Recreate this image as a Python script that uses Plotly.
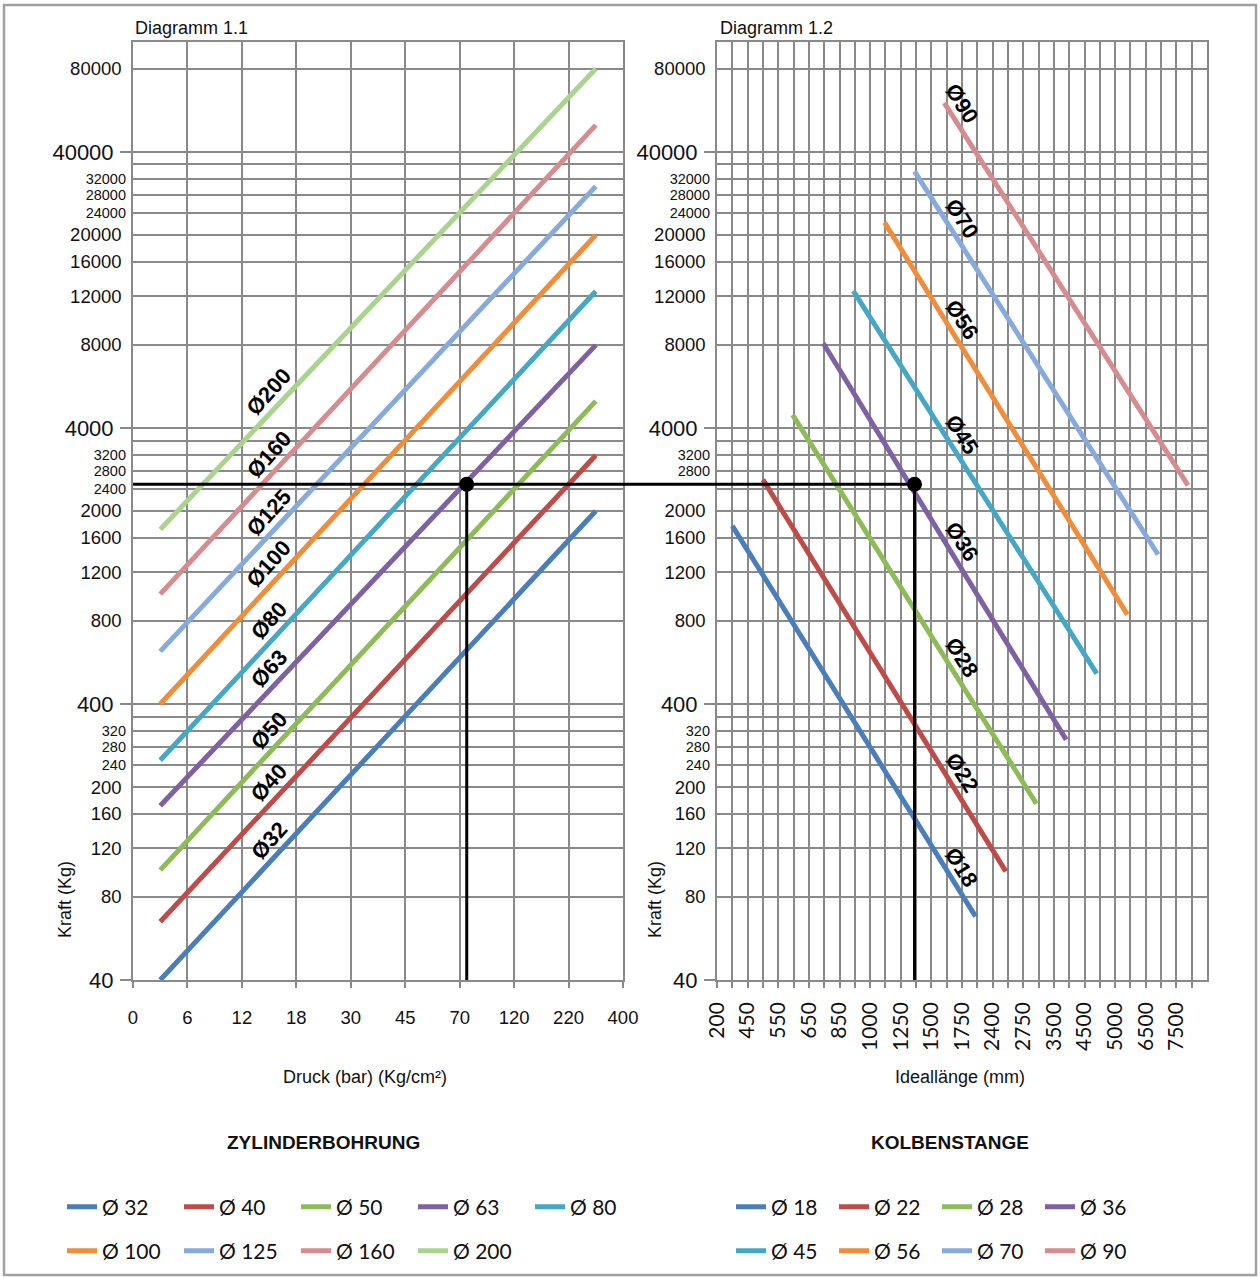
import math
import plotly.graph_objects as go

W, H = 1260, 1278

# ---------------- data ----------------
# Diagramm 1.1 : Zylinderbohrung  (Kraft vs. Druck)
bore_names = ["Ø 32", "Ø 40", "Ø 50", "Ø 63", "Ø 80", "Ø 100", "Ø 125", "Ø 160", "Ø 200"]
bore_labels = ["Ø32", "Ø40", "Ø50", "Ø63", "Ø80", "Ø100", "Ø125", "Ø160", "Ø200"]
bore_colors = ["#4A7EBB", "#BE4B48", "#8DBB58", "#7E61A2", "#44A8C4",
               "#F08C3A", "#86AADB", "#D68C8E", "#A9D38E"]
bore_pos_start = [0.5] * 9          # position on pressure axis (category index)
bore_pos_end = [8.5] * 9
bore_force_start = [40, 65, 100, 171, 250, 400, 620, 1000, 1715]
bore_force_end = [2000, 3185, 5000, 7980, 12500, 20000, 30000, 50000, 80000]
pressure_ticks = ["0", "6", "12", "18", "30", "45", "70", "120", "220", "400"]

# Diagramm 1.2 : Kolbenstange  (Kraft vs. Ideallänge)
rod_names = ["Ø 18", "Ø 22", "Ø 28", "Ø 36", "Ø 45", "Ø 56", "Ø 70", "Ø 90"]
rod_labels = ["Ø18", "Ø22", "Ø28", "Ø36", "Ø45", "Ø56", "Ø70", "Ø90"]
rod_colors = ["#4A7EBB", "#BE4B48", "#8DBB58", "#7E61A2", "#44A8C4",
              "#F08C3A", "#86AADB", "#D68C8E"]
rod_pos_start = [0.5, 1.5, 2.47, 3.47, 4.45, 5.47, 6.45, 7.42]
rod_pos_end = [8.44, 9.43, 10.43, 11.4, 12.4, 13.4, 14.4, 15.38]
rod_force_start = [1766, 2597, 4460, 8100, 12540, 22200, 34000, 60200]
rod_force_end = [68, 99, 174, 297, 515, 843, 1391, 2476]
length_ticks = ["200", "450", "550", "650", "850", "1000", "1250", "1500", "1750",
                "2400", "2750", "3500", "4500", "5000", "6500", "7500"]

force_grid = [40, 80, 120, 160, 200, 240, 280, 320, 360, 400, 800, 1200, 1600, 2000,
              2400, 2800, 3200, 3600, 4000, 8000, 12000, 16000, 20000, 24000, 28000,
              32000, 36000, 40000, 80000]
force_major = [40, 400, 4000, 40000]
force_dense = [240, 280, 320, 2400, 2800, 3200, 24000, 28000, 32000]
force_unlabeled = [360, 3600, 36000]
force_range = [40, 100000]

# example reading
op_force = 2500
op_pressure_pos = 6.13
op_length_pos = 6.45

# ---------------- layout geometry ----------------
xdomL = [133 / W, 623 / W]
xdomR = [717 / W, 1207 / W]
ydom = [1 - 980 / H, 1 - 42 / H]

GRID = "#8A8A8A"
ARIAL = "Liberation Sans, Arial"
AX_FONT = dict(family=ARIAL, size=18.5, color="#111")
LEG_FONT = dict(family="Lato, Open Sans", size=21, color="#111")


def log_interp(x, x0, x1, v0, v1):
    t = (x - x0) / (x1 - x0)
    return math.log10(v0) + t * (math.log10(v1) - math.log10(v0))


fig = go.Figure()

legend_of_bore = ["legend"] * 5 + ["legend2"] * 4
legend_of_rod = ["legend3"] * 4 + ["legend4"] * 4

for i, n in enumerate(bore_names):
    fig.add_trace(go.Scatter(
        x=[bore_pos_start[i], bore_pos_end[i]],
        y=[bore_force_start[i], bore_force_end[i]],
        mode="lines", name=n, legend=legend_of_bore[i],
        line=dict(color=bore_colors[i], width=5),
        xaxis="x", yaxis="y", hoverinfo="skip"))

for i, n in enumerate(rod_names):
    fig.add_trace(go.Scatter(
        x=[rod_pos_start[i], rod_pos_end[i]],
        y=[rod_force_start[i], rod_force_end[i]],
        mode="lines", name=n, legend=legend_of_rod[i],
        line=dict(color=rod_colors[i], width=5),
        xaxis="x2", yaxis="y2", hoverinfo="skip"))

# crosshair (vertical parts + points)
fig.add_trace(go.Scatter(x=[op_pressure_pos, op_pressure_pos], y=[force_range[0], op_force],
                         mode="lines", line=dict(color="black", width=3),
                         showlegend=False, xaxis="x", yaxis="y3", hoverinfo="skip"))
fig.add_trace(go.Scatter(x=[op_pressure_pos], y=[op_force], mode="markers",
                         marker=dict(color="black", size=15),
                         showlegend=False, xaxis="x", yaxis="y5", hoverinfo="skip"))
fig.add_trace(go.Scatter(x=[op_length_pos, op_length_pos], y=[force_range[0], op_force],
                         mode="lines", line=dict(color="black", width=3),
                         showlegend=False, xaxis="x2", yaxis="y4", hoverinfo="skip"))
fig.add_trace(go.Scatter(x=[op_length_pos], y=[op_force], mode="markers",
                         marker=dict(color="black", size=15),
                         showlegend=False, xaxis="x2", yaxis="y6", hoverinfo="skip"))

# horizontal crosshair linking both diagrams
x_right_paper = xdomR[0] + op_length_pos / 16 * (xdomR[1] - xdomR[0])
fig.add_shape(type="line", xref="paper", yref="y", x0=xdomL[0], x1=x_right_paper,
              y0=op_force, y1=op_force, line=dict(color="black", width=3), layer="above")


def ytext(skip):
    hide = force_major + force_dense + force_unlabeled + skip
    return ["" if v in hide else str(v) for v in force_grid]


def dense_text(skip):
    return ["" if v in skip else str(v) for v in force_dense]


yrange = [math.log10(force_range[0]), math.log10(force_range[1])]
ybase = dict(type="log", range=yrange, domain=ydom, tickmode="array",
             tickvals=force_grid, showgrid=True, gridcolor=GRID, gridwidth=1.5,
             showline=True, linecolor=GRID, linewidth=1.5, mirror=True,
             ticks="", tickfont=AX_FONT, ticklabelstandoff=6, zeroline=False,
             fixedrange=True, automargin=False)
ymajor = dict(type="log", range=yrange, tickmode="array", tickvals=force_major,
              ticktext=[str(v) for v in force_major], showgrid=False, showline=False,
              ticks="outside", ticklen=12, tickcolor=GRID, tickwidth=1.5,
              tickfont=dict(family=ARIAL, size=22, color="#111"),
              ticklabelstandoff=2, zeroline=False, automargin=False)
ydense = dict(type="log", range=yrange, tickmode="array", tickvals=force_dense,
              showgrid=False, showline=False, ticks="",
              tickfont=dict(family=ARIAL, size=14.5, color="#111"),
              ticklabelstandoff=6, zeroline=False, automargin=False)

fig.update_layout(
    width=W, height=H,
    margin=dict(l=0, r=0, t=0, b=0, autoexpand=False),
    paper_bgcolor="white", plot_bgcolor="white",
    xaxis=dict(domain=xdomL, range=[0, 9], tickmode="array",
               tickvals=list(range(len(pressure_ticks))), ticktext=pressure_ticks,
               showgrid=True, gridcolor=GRID, gridwidth=1.5,
               showline=True, linecolor=GRID, linewidth=1.5, mirror=True,
               ticks="outside", ticklen=6, tickcolor=GRID, tickwidth=1.5,
               tickfont=AX_FONT, ticklabelstandoff=14, zeroline=False, anchor="y",
               automargin=False),
    yaxis=dict(ybase, ticktext=ytext([]), anchor="x"),
    yaxis3=dict(ymajor, overlaying="y", anchor="x", side="left"),
    yaxis5=dict(ydense, ticktext=dense_text([]), overlaying="y", anchor="x", side="left"),
    xaxis2=dict(domain=xdomR, range=[0, 16], tickmode="array",
                tickvals=list(range(len(length_ticks))), ticktext=length_ticks,
                tickangle=-90,
                minor=dict(tickmode="array",
                           tickvals=[k + 0.5 for k in range(len(length_ticks))],
                           showgrid=True, gridcolor=GRID, gridwidth=1.5,
                           ticks="outside", ticklen=6, tickcolor=GRID),
                showgrid=True, gridcolor=GRID, gridwidth=1.5,
                showline=True, linecolor=GRID, linewidth=1.5, mirror=True,
                ticks="outside", ticklen=6, tickcolor=GRID, tickwidth=1.5,
                tickfont=dict(family="Lato, Open Sans", size=21, color="#111"),
                ticklabelstandoff=6, zeroline=False, anchor="y2", automargin=False),
    yaxis2=dict(ybase, ticktext=ytext([2400]), anchor="x2"),
    yaxis4=dict(ymajor, overlaying="y2", anchor="x2", side="left"),
    yaxis6=dict(ydense, ticktext=dense_text([2400]), overlaying="y2", anchor="x2",
                side="left"),
    showlegend=True,
    legend=dict(orientation="h", x=62 / W, y=1 - 1207 / H, xanchor="left", yanchor="middle",
                entrywidth=72, font=LEG_FONT, bgcolor="rgba(0,0,0,0)"),
    legend2=dict(orientation="h", x=62 / W, y=1 - 1251 / H, xanchor="left", yanchor="middle",
                 entrywidth=72, font=LEG_FONT, bgcolor="rgba(0,0,0,0)"),
    legend3=dict(orientation="h", x=731 / W, y=1 - 1207 / H, xanchor="left", yanchor="middle",
                 entrywidth=58, font=LEG_FONT, bgcolor="rgba(0,0,0,0)"),
    legend4=dict(orientation="h", x=731 / W, y=1 - 1251 / H, xanchor="left", yanchor="middle",
                 entrywidth=58, font=LEG_FONT, bgcolor="rgba(0,0,0,0)"),
)

# diameter labels along the lines
LBL_FONT = dict(family=ARIAL, size=22, color="black")
for i, lab in enumerate(bore_labels):
    xl = 2.7
    fig.add_annotation(x=xl, y=log_interp(xl, bore_pos_start[i], bore_pos_end[i],
                                          bore_force_start[i], bore_force_end[i]),
                       xref="x", yref="y", text="<b>%s</b>" % lab, showarrow=False,
                       textangle=-48, xshift=-11, yshift=11, font=LBL_FONT)
for i, lab in enumerate(rod_labels):
    xl = 7.6
    fig.add_annotation(x=xl, y=log_interp(xl, rod_pos_start[i], rod_pos_end[i],
                                          rod_force_start[i], rod_force_end[i]),
                       xref="x2", yref="y2", text="<b>%s</b>" % lab, showarrow=False,
                       textangle=58, xshift=12, yshift=8, font=LBL_FONT)

TXT = dict(family=ARIAL, size=18, color="#111")
texts = [
    ("Diagramm 1.1", 133, 28, "left", 0, TXT),
    ("Diagramm 1.2", 718, 28, "left", 0, TXT),
    ("Kraft (Kg)", 65, 900, "center", -90, TXT),
    ("Kraft (Kg)", 655, 900, "center", -90, TXT),
    ("Druck (bar) (Kg/cm²)", 365, 1077, "center", 0, TXT),
    ("Ideallänge (mm)", 960, 1077, "center", 0, TXT),
    ("<b>ZYLINDERBOHRUNG</b>", 323, 1142, "center", 0, dict(TXT, size=19)),
    ("<b>KOLBENSTANGE</b>", 950, 1142, "center", 0, dict(TXT, size=19)),
]
for t, px, py, xa, ang, f in texts:
    fig.add_annotation(x=px / W, y=1 - py / H, xref="paper", yref="paper", text=t,
                       showarrow=False, xanchor=xa, yanchor="middle", textangle=ang, font=f)

# outer frame
fig.add_shape(type="rect", xref="paper", yref="paper", x0=4 / W, x1=1256 / W,
              y0=1 - 1275 / H, y1=1 - 5 / H, line=dict(color="#A0A0A0", width=2.5))

fig.write_html("out.html", config={"displayModeBar": False},
               post_script="document.body.style.margin='0px';"
                           "document.body.style.overflow='hidden';")
